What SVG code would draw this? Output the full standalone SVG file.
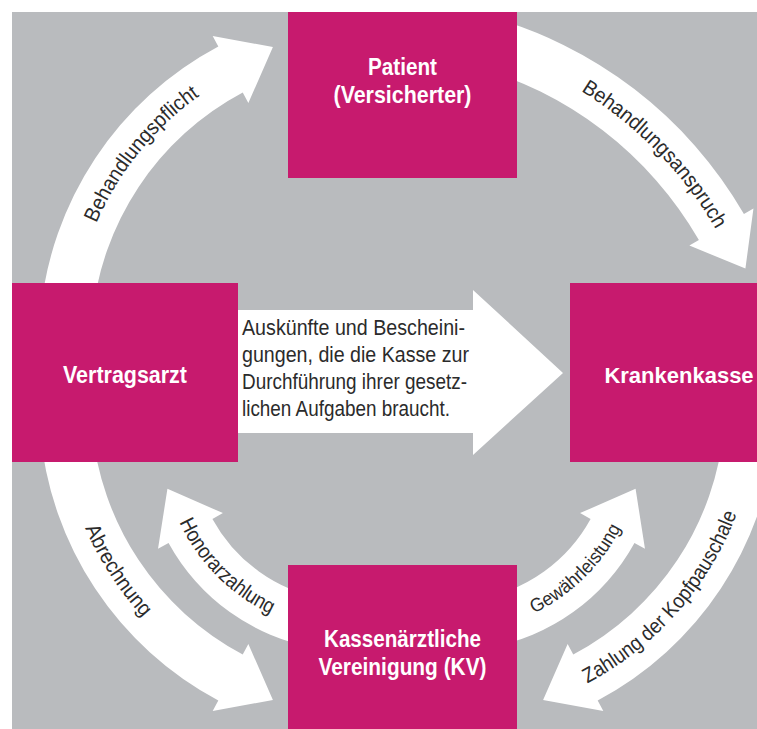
<svg xmlns="http://www.w3.org/2000/svg" xmlns:xlink="http://www.w3.org/1999/xlink" width="757" height="729" viewBox="0 0 757 729">
<style>
.box{fill:#C71A6E}
.nt{font-family:"Liberation Sans",Arial,sans-serif;font-weight:bold;font-size:24px;fill:#ffffff;text-anchor:middle}
.arr{fill:#ffffff}
.lbl{font-family:"Liberation Sans",Arial,sans-serif;font-size:21px;fill:#2b2b2b;text-anchor:middle}
.mt{font-family:"Liberation Sans",Arial,sans-serif;font-size:22px;fill:#2b2b2b}
</style>
<defs>
<path id="t1" d="M -304.3 32 A 306 306 0 0 1 -32 -304.3"/>
<path id="t2" d="M 4.8 -394 A 394 394 0 0 1 394 4.8"/>
<path id="t3" d="M -311 -66.1 A 318 318 0 0 0 -66.1 311"/>
<path id="t4" d="M 20 317.4 A 318 318 0 0 0 317.4 -20"/>
<path id="t5" d="M -189 -0.66 A 189 189 0 0 0 -0.66 189"/>
<path id="t6" d="M -1.65 189 A 189 189 0 0 0 189 1.65"/>
</defs>
<rect x="12" y="12" width="745" height="717" fill="#B9BBBE"/>
<g id="connectors">
  <g id="a1" transform="translate(377 345) rotate(-118)"><path class="arr" d="M 184.1 -283.5 A 338 338 0 0 1 338 0 L 350 0 L 312 48 L 274 0 L 286 0 A 286 286 0 0 0 155.8 -239.9 Z"/></g>
  <use xlink:href="#a1" href="#a1" transform="translate(0 747) scale(1 -1)"/>
  <use xlink:href="#a1" href="#a1" transform="translate(816 747) scale(-1 -1)"/>
  <g id="a2" transform="translate(375 427) rotate(-30)"><path class="arr" d="M 301.2 -301.2 A 426 426 0 0 1 426 0 L 437 0 L 400 48 L 363 0 L 374 0 A 374 374 0 0 0 264.5 -264.5 Z"/></g>
  <g id="a5" transform="translate(351 443) rotate(151.3)"><path class="arr" d="M 130 -162.3 A 208 208 0 0 1 208 0 L 220 0 L 183 48 L 146 0 L 158 0 A 158 158 0 0 0 98.8 -123.3 Z"/></g>
  <use xlink:href="#a5" href="#a5" transform="translate(803 0) scale(-1 1)"/>
  <path class="arr" d="M238 310 H473 V290 L563 373 L473 455 V433 H238 Z"/>
  <g transform="translate(377 345)"><text class="lbl"><textPath xlink:href="#t1" href="#t1" startOffset="50%" textLength="166" lengthAdjust="spacingAndGlyphs">Behandlungspflicht</textPath></text></g>
  <g transform="translate(375 427)"><text class="lbl"><textPath xlink:href="#t2" href="#t2" startOffset="50%" textLength="195" lengthAdjust="spacingAndGlyphs">Behandlungsanspruch</textPath></text></g>
  <g transform="translate(377 402)"><text class="lbl"><textPath xlink:href="#t3" href="#t3" startOffset="50%" textLength="107" lengthAdjust="spacingAndGlyphs">Abrechnung</textPath></text></g>
  <g transform="translate(439 402)"><text class="lbl"><textPath xlink:href="#t4" href="#t4" startOffset="50%" textLength="231" lengthAdjust="spacingAndGlyphs">Zahlung der Kopfpauschale</textPath></text></g>
  <g transform="translate(351 443)"><text class="lbl"><textPath xlink:href="#t5" href="#t5" startOffset="50%" textLength="132" lengthAdjust="spacingAndGlyphs">Honorarzahlung</textPath></text></g>
  <g transform="translate(452 443)"><text class="lbl" style="font-size:19px"><textPath xlink:href="#t6" href="#t6" startOffset="50%" textLength="124" lengthAdjust="spacingAndGlyphs">Gewährleistung</textPath></text></g>
  <text class="mt" x="242" y="335" textLength="223" lengthAdjust="spacingAndGlyphs">Auskünfte und Bescheini-</text>
  <text class="mt" x="242" y="362" textLength="227" lengthAdjust="spacingAndGlyphs">gungen, die die Kasse zur</text>
  <text class="mt" x="242" y="389" textLength="225" lengthAdjust="spacingAndGlyphs">Durchführung ihrer gesetz-</text>
  <text class="mt" x="242" y="416" textLength="208" lengthAdjust="spacingAndGlyphs">lichen Aufgaben braucht.</text>
</g>
<g id="patient">
  <rect class="box" x="288" y="12" width="229" height="166"/>
  <text class="nt" x="402.5" y="75" textLength="69" lengthAdjust="spacingAndGlyphs">Patient</text>
  <text class="nt" x="402.5" y="103" textLength="138" lengthAdjust="spacingAndGlyphs">(Versicherter)</text>
</g>
<g id="vertragsarzt">
  <rect class="box" x="12" y="283" width="226" height="179"/>
  <text class="nt" x="125" y="383" textLength="124" lengthAdjust="spacingAndGlyphs">Vertragsarzt</text>
</g>
<g id="krankenkasse">
  <rect class="box" x="570" y="283" width="187" height="179"/>
  <text class="nt" x="679" y="383" style="font-size:22px">Krankenkasse</text>
</g>
<g id="kv">
  <rect class="box" x="288" y="565" width="229" height="164"/>
  <text class="nt" x="402.5" y="647" textLength="157" lengthAdjust="spacingAndGlyphs">Kassenärztliche</text>
  <text class="nt" x="402.5" y="675" textLength="168" lengthAdjust="spacingAndGlyphs">Vereinigung (KV)</text>
</g>
</svg>
